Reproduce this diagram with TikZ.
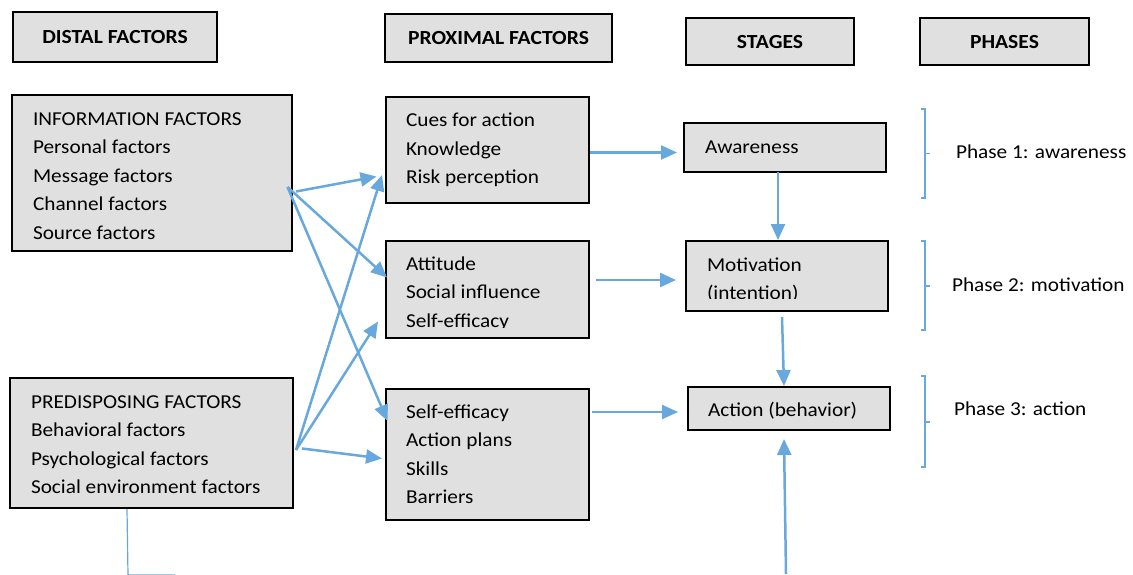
\documentclass[tikz,border=0pt]{standalone}
\usepackage{fontspec}
\setmainfont{Carlito}[FakeStretch=1.08]
\usetikzlibrary{arrows.meta}
\definecolor{boxgray}{RGB}{224,224,224}
\definecolor{flow}{RGB}{104,168,220}
\begin{document}
\begin{tikzpicture}[x=1pt,y=-1pt,
  box/.style={draw=black,line width=1.8pt,fill=boxgray,inner sep=0pt,outer sep=0pt,anchor=north west},
  head/.style={box,font=\fontsize{20}{22}\selectfont\bfseries},
  txt/.style={anchor=base west,inner sep=0pt,outer sep=0pt,font=\fontsize{19.7}{24}\selectfont},
  flowarrow/.style={draw=flow,line width=2.5pt,-{Triangle[length=16pt,width=14pt]}},
  bracket/.style={draw=flow,line width=1.2pt},
]
\useasboundingbox (0,0) rectangle (1133,574);

% column headers
\node[head,minimum width=204pt,minimum height=50pt] (distal) at (13,12.3) {DISTAL FACTORS};
\node[head,minimum width=227pt,minimum height=48pt] (proximal) at (385,14) {PROXIMAL FACTORS};
\node[head,minimum width=168pt,minimum height=46.7pt] (stages) at (686,18.3) {STAGES};
\node[head,minimum width=169pt,minimum height=46.7pt] (phases) at (920,18.3) {PHASES};

% factor and stage boxes
\node[box,minimum width=280pt,minimum height=156pt] (info) at (12,95) {};
\node[box,minimum width=283pt,minimum height=130pt] (predisp) at (10,378) {};
\node[box,minimum width=203pt,minimum height=106pt] (prox1) at (386,97) {};
\node[box,minimum width=203pt,minimum height=97pt] (prox2) at (386,241) {};
\node[box,minimum width=203pt,minimum height=131pt] (prox3) at (386,389) {};
\node[box,minimum width=202pt,minimum height=49pt] (aware) at (684,123) {};
\node[box,minimum width=202pt,minimum height=70pt] (motiv) at (686,241) {};
\node[box,minimum width=202pt,minimum height=43pt] (action) at (688,387) {};

% box contents
\foreach \t [count=\i from 0] in {INFORMATION FACTORS,Personal factors,Message factors,Channel factors,Source factors}
  \node[txt] (info-\i) at (33,125+28.5*\i) {\t};
\foreach \t [count=\i from 0] in {PREDISPOSING FACTORS,Behavioral factors,Psychological factors,Social environment factors}
  \node[txt] (predisp-\i) at (31,408+28.5*\i) {\t};
\foreach \t [count=\i from 0] in {Cues for action,Knowledge,Risk perception}
  \node[txt] (prox1-\i) at (406,126.7+28.5*\i) {\t};
\begin{scope}
  % the last line is cut off by the box's text area
  \clip (386,241) rectangle (589,327.5);
  \foreach \t [count=\i from 0] in {Attitude,Social influence,Self-efficacy}
    \node[txt] (prox2-\i) at (406,270+28.5*\i) {\t};
\end{scope}
\foreach \t [count=\i from 0] in {Self-efficacy,Action plans,Skills,Barriers}
  \node[txt] (prox3-\i) at (406,418+28.5*\i) {\t};
\node[txt] (aware-0) at (705,153.3) {Awareness};
\begin{scope}
  \clip (686,241) rectangle (888,298.5);
  \node[txt] (motiv-0) at (707,271) {Motivation};
  \node[txt] (motiv-1) at (707,299.5) {(intention)};
\end{scope}
\node[txt] (action-0) at (708,416.7) {Action (behavior)};

% phase labels
\node[txt] (ph1) at (956,158.3) {Phase 1: awareness};
\node[txt] (ph2) at (952,291.7) {Phase 2: motivation};
\node[txt] (ph3) at (954,415.7) {Phase 3: action};

% brackets grouping the stages
\draw[bracket] (921,109) -- (925,109) -- (925,198) -- (921,198) (925,153.5) -- (929.5,153.5);
\draw[bracket] (921,241) -- (925,241) -- (925,330) -- (921,330) (925,286) -- (929.5,286);
\draw[bracket] (921,376) -- (925,376) -- (925,467) -- (921,467) (925,422) -- (929.5,422);

% connector end points
\coordinate (infoA) at (296,191.5);
\coordinate (infoB) at (287.5,187);
\coordinate (predA) at (296,450);
\coordinate (predB) at (302,448.5);
\coordinate (p1inA) at (376.5,176.5);
\coordinate (p1inB) at (382,175);
\coordinate (p2inA) at (387,277.5);
\coordinate (p2inB) at (378,321.5);
\coordinate (p3inA) at (387.5,421);
\coordinate (p3inB) at (382,458.5);
\coordinate (below) at (786,574);
\coordinate (offpage) at (128,575);

% distal to proximal
\draw[flowarrow] (infoA) -- (p1inA);
\draw[flowarrow] (infoB) -- (p2inA);
\draw[flowarrow] (infoB) -- (p3inA);
\draw[flowarrow] (predA) -- (p1inB);
\draw[flowarrow] (predA) -- (p2inB);
\draw[flowarrow] (predB) -- (p3inB);

% proximal to stages
\draw[flowarrow] (prox1.east |- 0,152.5) ++(1,0) -- (677,152.5);
\draw[flowarrow] ([xshift=7pt]prox2.east |- 0,280) -- (676,280);
\draw[flowarrow] ([xshift=3pt]prox3.east |- 0,412) -- (678,412);

% stage sequence
\draw[flowarrow] (aware.south -| 778,0) -- (778,240);
\draw[flowarrow] ([yshift=-6pt]motiv.south -| 782,0) -- (784,386);
\draw[flowarrow] (below) -- ([xshift=-5pt,yshift=-9pt]action.south);

% line leaving the predisposing box
\draw[draw=flow,line width=1.2pt] (127,509) -- (offpage) -- (175,575);
\end{tikzpicture}
\end{document}
